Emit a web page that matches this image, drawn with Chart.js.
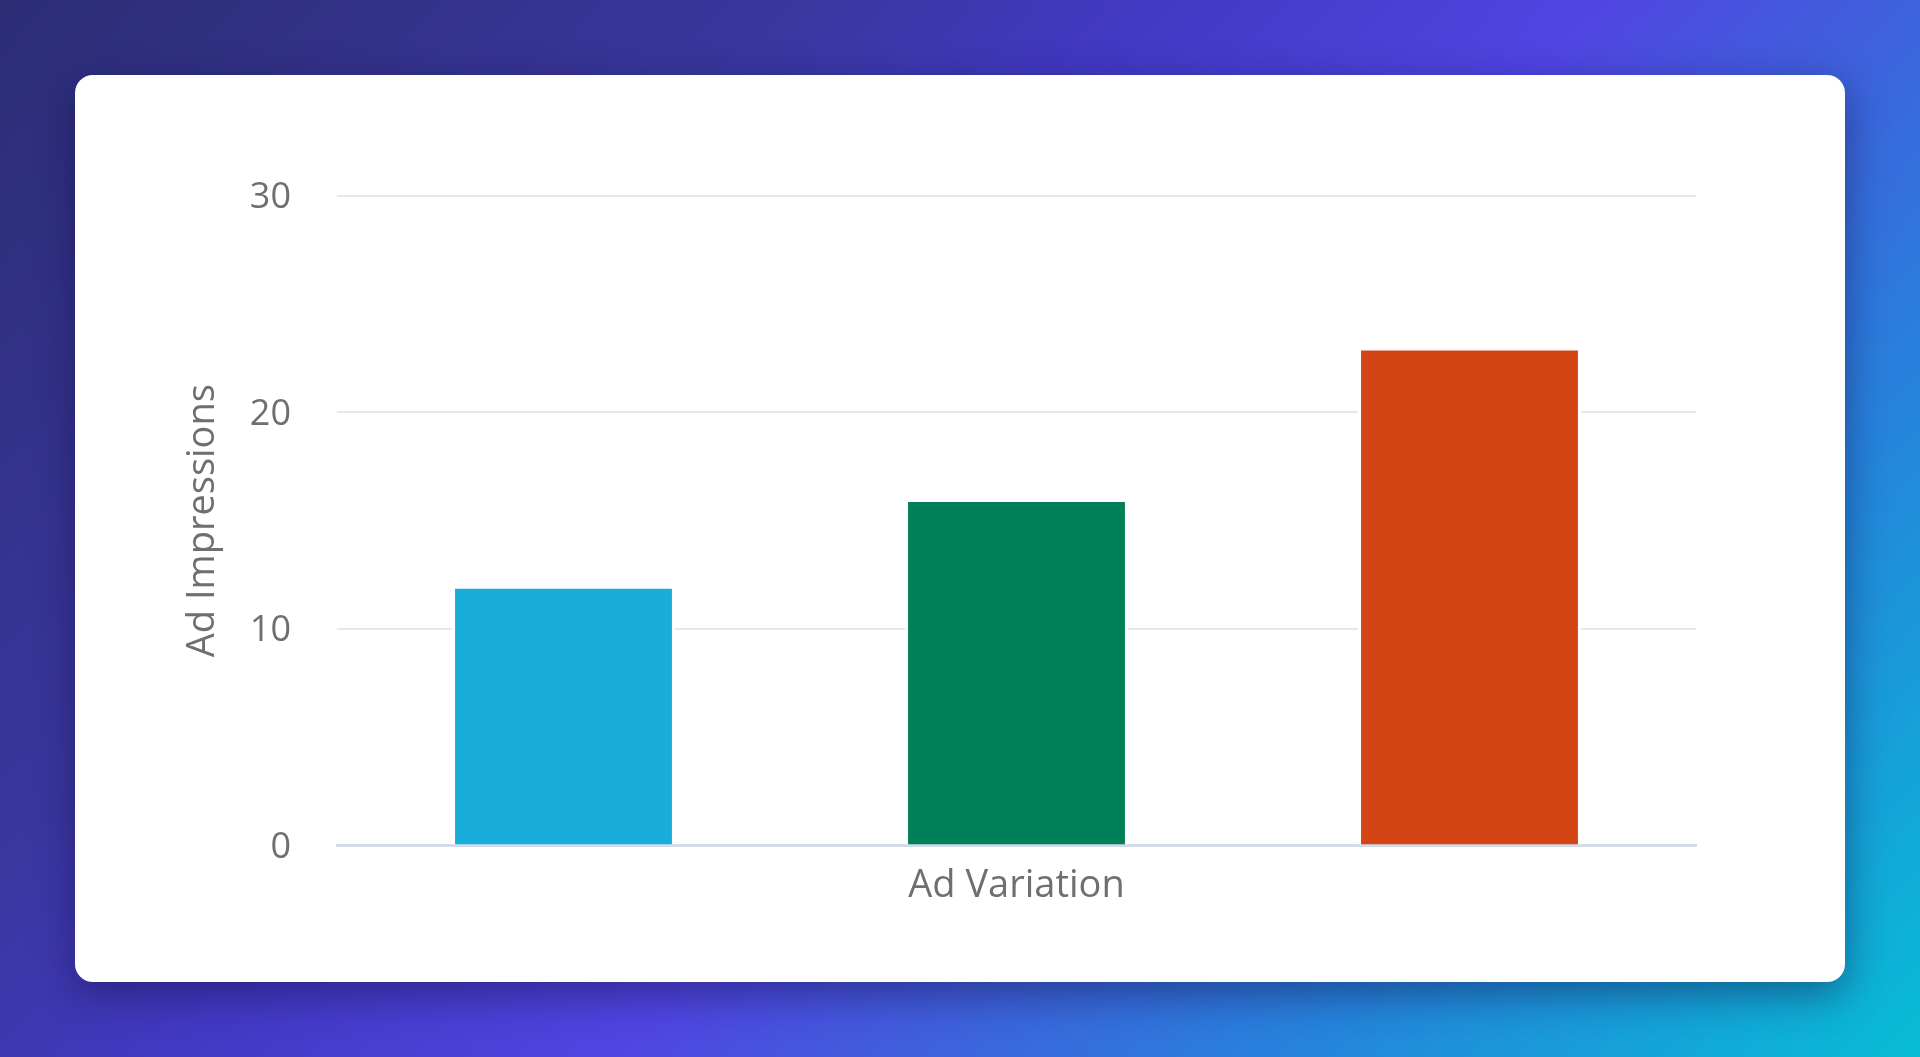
<!DOCTYPE html>
<html>
<head>
<meta charset="utf-8">
<script src="https://cdn.jsdelivr.net/npm/chart.js@4"></script>
<style>
  html, body { margin: 0; padding: 0; }
  body {
    width: 1920px; height: 1057px; overflow: hidden;
    background: linear-gradient(133deg, #2c2d75 0%, #3a379f 28%, #4239c4 40%, #5045e2 55%, #3e62dc 66%, #2585dc 79%, #07bdd5 100%);
    font-family: "Open Sans", sans-serif;
  }
  .card {
    position: absolute; left: 75px; top: 75px; width: 1770px; height: 907px;
    background: #fff; border-radius: 18px;
    box-shadow: 0 12px 40px rgba(15, 10, 60, 0.45);
  }
  .card canvas { position: absolute; left: 0; top: 0; }
</style>
</head>
<body>
<div class="card">
  <canvas id="myChart" width="1770" height="907"></canvas>
</div>
<script>
// data
var categories = ['Ad A', 'Ad B', 'Ad C'];
var impressions = [12, 16, 23];
var barColors = ['#1badda', '#008059', '#d34515'];
var yTicks = [0, 10, 20, 30];

var textGray = '#6f6f6f';

var ctx = document.getElementById('myChart').getContext('2d');
var chart = new Chart(ctx, {
    type: 'bar',
    data: {
        labels: categories,
        datasets: [{
            label: 'Ad Impressions',
            data: impressions,
            backgroundColor: barColors,
            borderColor: '#ffffff',
            borderWidth: 3,
            categoryPercentage: 1,
            barPercentage: 0.492
        }]
    },
    options: {
        responsive: false,
        animation: false,
        layout: {
            padding: { left: 101, right: 149, top: 121, bottom: 73 }
        },
        plugins: {
            legend: { display: false },
            tooltip: { enabled: false }
        },
        scales: {
            x: {
                grid: { display: false, drawTicks: false },
                border: { display: true, color: '#d3dae8', width: 3 },
                ticks: { display: false },
                title: {
                    display: true,
                    text: 'Ad Variation',
                    color: textGray,
                    font: { family: 'Open Sans', size: 38 },
                    padding: { top: 18, bottom: 0 }
                }
            },
            y: {
                min: yTicks[0],
                max: yTicks[yTicks.length - 1],
                afterBuildTicks: function (scale) {
                    scale.ticks = yTicks.map(function (v) { return { value: v }; });
                },
                afterFit: function (scale) { scale.width = 161; },
                grid: { color: '#e6e8ec', lineWidth: 2, drawTicks: false },
                border: { display: false },
                ticks: {
                    color: textGray,
                    padding: 46,
                    labelOffset: 2,
                    font: { family: 'Open Sans', size: 36 }
                },
                title: {
                    display: true,
                    text: 'Ad Impressions',
                    color: textGray,
                    font: { family: 'Open Sans', size: 38 },
                    padding: { top: 4, bottom: 4 }
                }
            }
        }
    }
});
</script>
</body>
</html>
